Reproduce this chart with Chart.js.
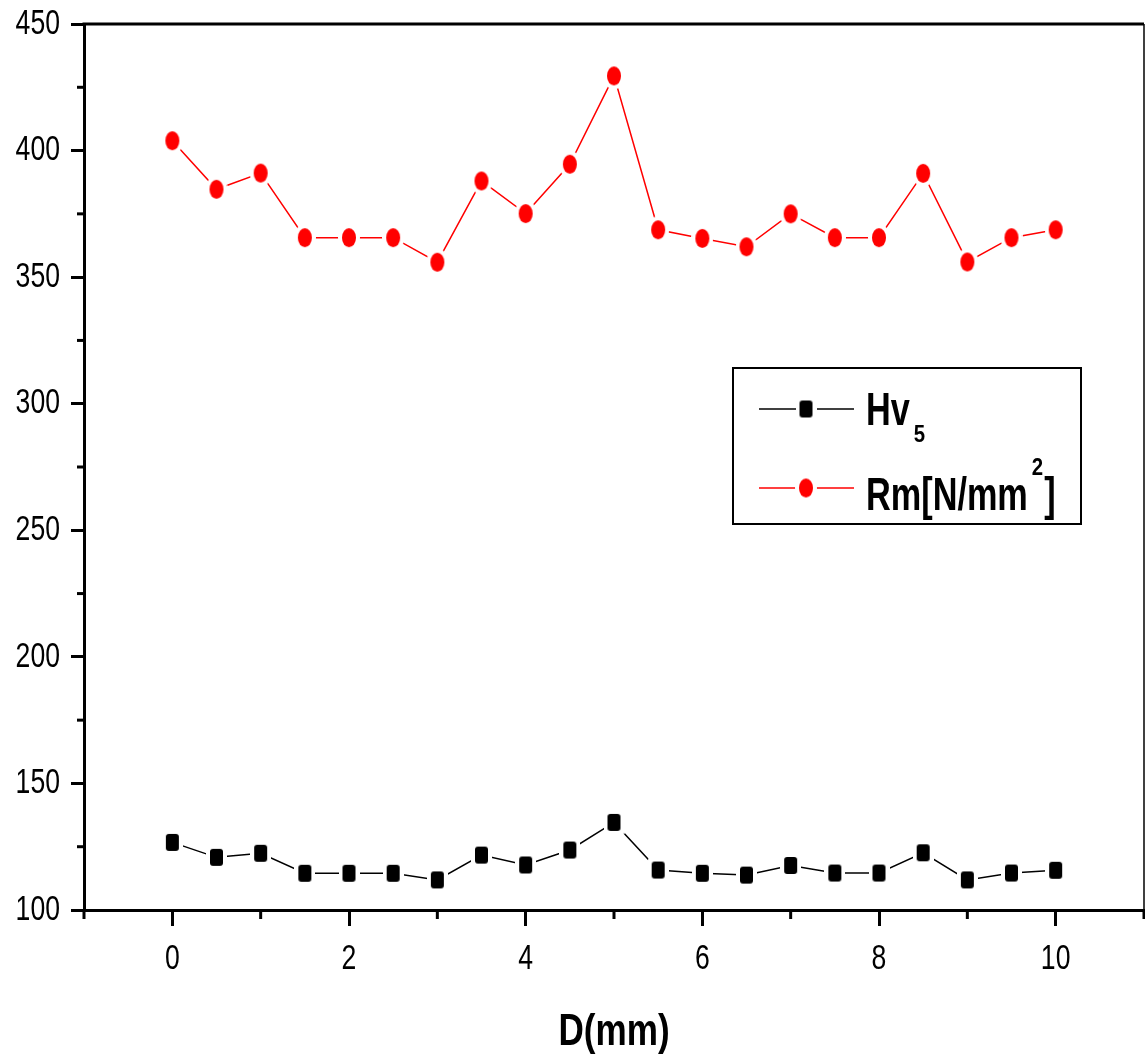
<!DOCTYPE html>
<html><head><meta charset="utf-8">
<script src="https://cdn.jsdelivr.net/npm/chart.js@4.4.1/dist/chart.umd.min.js"></script>
<style>html,body{margin:0;padding:0;background:#fff;overflow:hidden;}canvas{display:block;}</style>
</head><body><canvas id="c" width="1145" height="1059" style="width:1145px;height:1059px;"></canvas>
<script>
// ---- data ----
const distances = [0, 0.5, 1, 1.5, 2, 2.5, 3, 3.5, 4, 4.5, 5, 5.5, 6, 6.5, 7, 7.5, 8, 8.5, 9, 9.5, 10];
const hv5 = [126.7, 120.8, 122.4, 114.5, 114.5, 114.5, 111.9, 121.7, 117.8, 123.7, 134.6, 115.8, 114.5, 113.8, 117.6, 114.6, 114.6, 122.6, 111.9, 114.6, 115.7];
const rm = [403.9, 384.7, 391.1, 365.6, 365.6, 365.6, 355.9, 388.0, 375.1, 394.6, 429.5, 368.7, 365.3, 362.0, 375.0, 365.6, 365.6, 391.0, 356.0, 365.6, 368.7];
const xMajorTicks = [0, 2, 4, 6, 8, 10];
const xMinorTicks = [-1, 1, 3, 5, 7, 9, 11];
const yMajorTicks = [100, 150, 200, 250, 300, 350, 400, 450];
const yMinorTicks = [125, 175, 225, 275, 325, 375, 425];
const seriesNames = ['Hv5', 'Rm[N/mm2]'];
const xTitle = 'D(mm)';

const FONT = "'Liberation Sans', Arial, sans-serif";

function makeMarker(shape, color, w, h, halo) {
  const W = Math.round(w + 2 * halo), H = Math.round(h + 2 * halo);
  const c = document.createElement('canvas');
  c.width = W; c.height = H;
  const g = c.getContext('2d');
  const draw = (ww, hh, col) => {
    g.fillStyle = col;
    g.beginPath();
    if (shape === 'ellipse') {
      g.ellipse(W / 2, H / 2, ww / 2, hh / 2, 0, 0, Math.PI * 2);
    } else {
      const r = Math.min(3, ww / 4);
      g.roundRect(W / 2 - ww / 2, H / 2 - hh / 2, ww, hh, r);
    }
    g.fill();
  };
  draw(w + 2 * halo, h + 2 * halo, '#ffffff');
  draw(w, h, color);
  return c;
}
const squareMarker = makeMarker('rect', '#000000', 13, 17, 4);
const circleMarker = makeMarker('ellipse', '#ff0000', 14, 19, 4);

// narrow text helper (Arial Narrow look = Arial squeezed horizontally)
function narrowText(ctx, text, x, y, font, sx, align, baseline) {
  ctx.save();
  ctx.translate(x, y);
  ctx.scale(sx, 1);
  ctx.font = font;
  ctx.textAlign = align;
  ctx.textBaseline = baseline;
  ctx.fillStyle = '#000';
  ctx.fillText(text, 0, 0);
  const w = ctx.measureText(text).width * sx;
  ctx.restore();
  return w;
}

const decor = {
  id: 'decor',
  afterDraw(chart) {
    const { ctx, chartArea: a, scales: { x, y } } = chart;
    const line = (x1, y1, x2, y2) => { ctx.beginPath(); ctx.moveTo(x1, y1); ctx.lineTo(x2, y2); ctx.stroke(); };
    ctx.save();
    ctx.strokeStyle = '#000';
    ctx.lineWidth = 3;
    line(a.left - 1.5, a.top, a.right, a.top);
    ctx.lineWidth = 1.5;
    line(a.right, a.top, a.right, a.bottom + 1.5);
    ctx.lineWidth = 3;
    xMinorTicks.forEach(v => { const px = x.getPixelForValue(v); line(px, a.bottom, px, a.bottom + 9); });
    yMinorTicks.forEach(v => { const py = y.getPixelForValue(v); line(a.left, py, a.left - 7, py); });

    // tick labels from the library's scales
    const tickFont = "35px " + FONT;
    y.ticks.forEach(t => {
      narrowText(ctx, String(t.label), a.left - 24, y.getPixelForValue(t.value), tickFont, 0.76, 'right', 'middle');
    });
    x.ticks.forEach(t => {
      narrowText(ctx, String(t.label), x.getPixelForValue(t.value), a.bottom + 49, tickFont, 0.76, 'center', 'middle');
    });
    // axis title
    narrowText(ctx, xTitle, (a.left + a.right) / 2, a.bottom + 135, "bold 45px " + FONT, 0.78, 'center', 'alphabetic');

    // legend
    const bx = 733, by = 368, bw = 348, bh = 156;
    ctx.strokeStyle = '#000';
    ctx.lineWidth = 2;
    ctx.strokeRect(bx, by, bw, bh);
    const rows = [
      { ds: 0, cy: 409, base: 425, parts: [['Hv', 0], ['5', 1]] },
      { ds: 1, cy: 488, base: 510, parts: [['Rm[N/mm', 0], ['2', -1], [']', 0]] }
    ];
    rows.forEach(r => {
      const d = chart.data.datasets[r.ds];
      ctx.strokeStyle = d.borderColor;
      ctx.lineWidth = 1.5;
      line(759, r.cy, 796, r.cy);
      line(815, r.cy, 854, r.cy);
      const m = d.pointStyle;
      ctx.drawImage(m, 806 - m.width / 2, r.cy - m.height / 2);
      let tx = 866;
      r.parts.forEach(([t, mode]) => {
        if (mode === 0) {
          tx += narrowText(ctx, t, tx, r.base, "bold 46px " + FONT, 0.745, 'left', 'alphabetic');
        } else {
          const yy = mode === 1 ? r.base + 17 : r.base - 35;
          tx += narrowText(ctx, t, tx + 4, yy, "bold 24px " + FONT, 0.85, 'left', 'alphabetic') + 5;
        }
      });
    });
    ctx.restore();
  }
};

Chart.defaults.font.family = FONT;
Chart.defaults.color = '#000';

new Chart(document.getElementById('c'), {
  type: 'line',
  data: {
    datasets: [
      {
        label: seriesNames[0],
        data: distances.map((d, i) => ({ x: d, y: hv5[i] })),
        borderColor: '#000000',
        backgroundColor: '#000000',
        borderWidth: 1.5,
        pointStyle: squareMarker,
        tension: 0
      },
      {
        label: seriesNames[1],
        data: distances.map((d, i) => ({ x: d, y: rm[i] })),
        borderColor: '#ff0000',
        backgroundColor: '#ff0000',
        borderWidth: 1.5,
        pointStyle: circleMarker,
        tension: 0
      }
    ]
  },
  options: {
    responsive: false,
    animation: false,
    events: [],
    layout: { autoPadding: false, padding: { top: 24, right: 1, left: 0, bottom: 0 } },
    plugins: { legend: { display: false }, tooltip: { enabled: false } },
    scales: {
      x: {
        type: 'linear', min: -1, max: 11,
        afterBuildTicks: s => { s.ticks = xMajorTicks.map(v => ({ value: v })); },
        afterFit: s => { s.height = 149; s.paddingLeft = 0; s.paddingRight = 0; },
        border: { display: true, color: '#000', width: 3 },
        grid: { display: true, drawOnChartArea: false, drawTicks: true, tickLength: 16, tickWidth: 3, tickColor: '#000' },
        ticks: { display: false, autoSkip: false, maxRotation: 0 },
        title: { display: false }
      },
      y: {
        type: 'linear', min: 100, max: 450,
        afterBuildTicks: s => { s.ticks = yMajorTicks.map(v => ({ value: v })); },
        afterFit: s => { s.width = 84; s.paddingTop = 0; s.paddingBottom = 0; },
        border: { display: true, color: '#000', width: 3 },
        grid: { display: true, drawOnChartArea: false, drawTicks: true, tickLength: 13, tickWidth: 3, tickColor: '#000' },
        ticks: { display: false, autoSkip: false }
      }
    }
  },
  plugins: [decor]
});
</script></body></html>
